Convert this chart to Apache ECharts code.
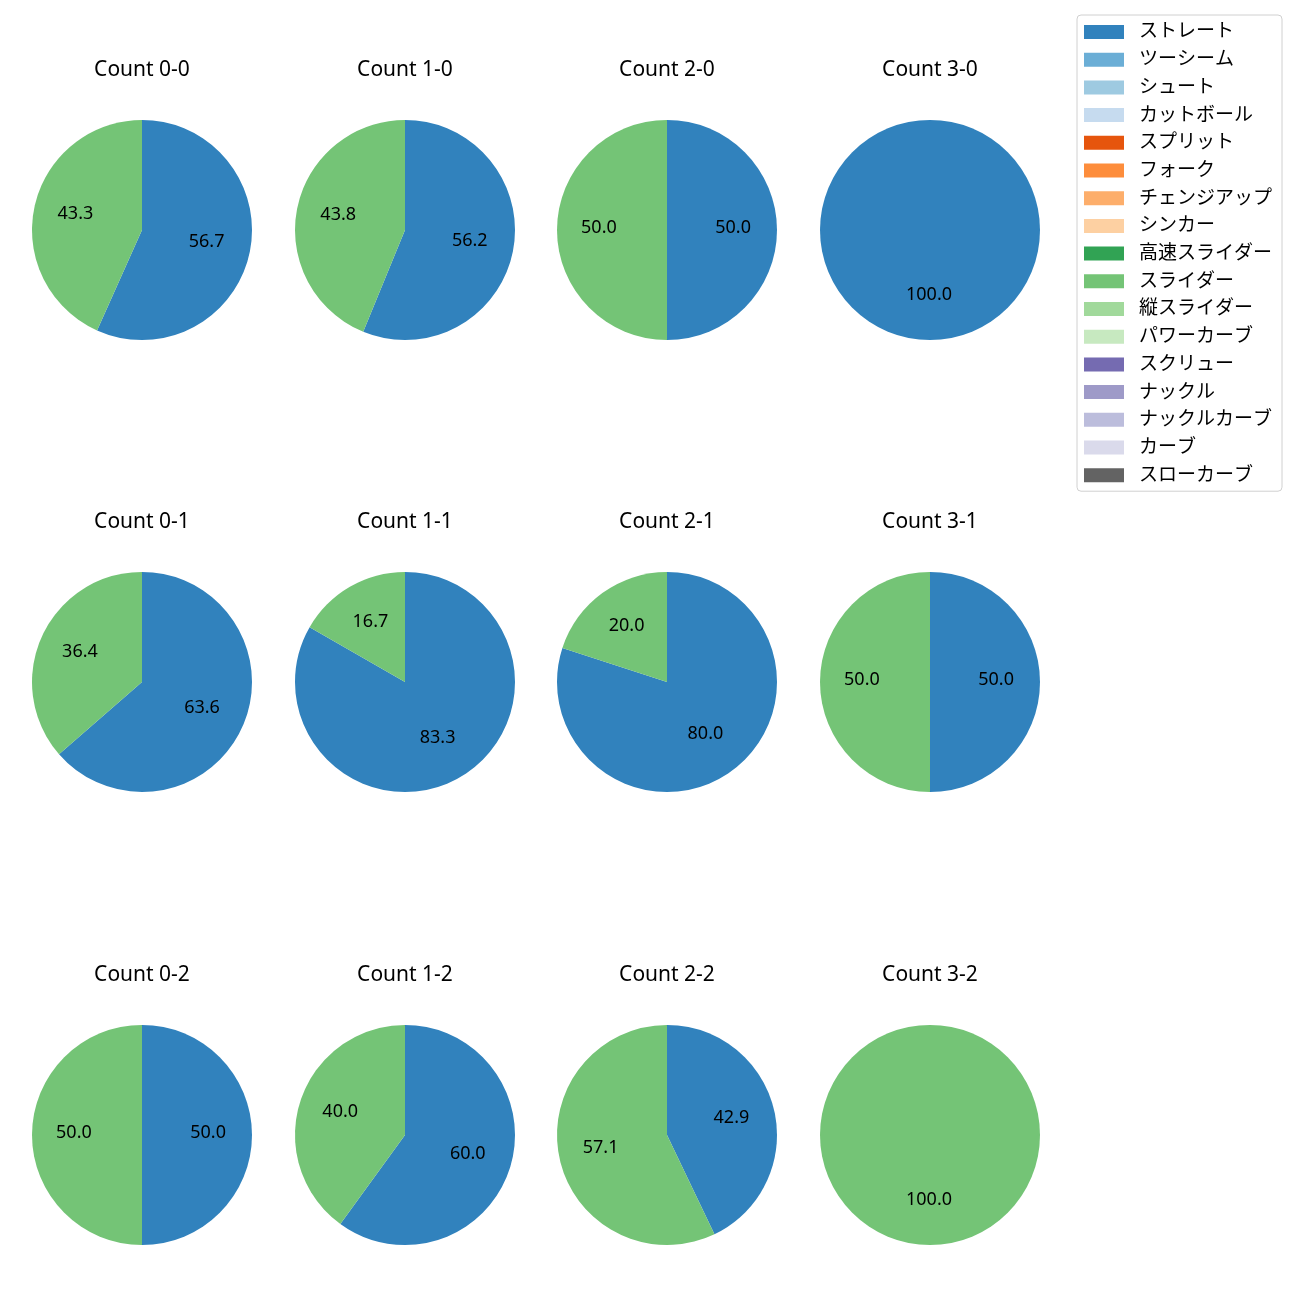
<!DOCTYPE html>
<html><head><meta charset="utf-8">
<script src="https://cdn.jsdelivr.net/npm/echarts@6/dist/echarts.min.js"></script>
<style>html,body{margin:0;padding:0;background:#fff}#c{width:1300px;height:1300px}</style>
</head><body><div id="c"></div>
<script>
const categories = ['ストレート','ツーシーム','シュート','カットボール','スプリット','フォーク','チェンジアップ','シンカー','高速スライダー','スライダー','縦スライダー','パワーカーブ','スクリュー','ナックル','ナックルカーブ','カーブ','スローカーブ'];
const colors = ['#3182bd','#6baed6','#9ecae1','#c6dbef','#e6550d','#fd8d3c','#fdae6b','#fdd0a2','#31a354','#74c476','#a1d99b','#c7e9c0','#756bb1','#9e9ac8','#bcbddc','#dadaeb','#636363'];
const counts = ['0-0','1-0','2-0','3-0','0-1','1-1','2-1','3-1','0-2','1-2','2-2','3-2'];
// percentages for ストレート and スライダー per count (others 0)
const straight = [56.7, 56.2, 50.0, 100.0, 63.6, 83.3, 80.0, 50.0, 50.0, 60.0, 42.9, 0];
const slider   = [43.3, 43.8, 50.0, 0,     36.4, 16.7, 20.0, 50.0, 50.0, 40.0, 57.1, 100.0];

const FONT = '"Noto Sans","Noto Sans CJK JP",sans-serif';
const colX = [142, 405, 667, 930];
const rowY = [230, 682, 1135];
const R = 110;

function dataFor(i){
  return categories.map((c,k)=>{
    let v = 0;
    if (c==='ストレート') v = straight[i];
    if (c==='スライダー') v = slider[i];
    return {name:c, value:v, itemStyle:{color:colors[k]}};
  });
}

const series = [];
const titles = [];
counts.forEach((cnt,i)=>{
  const cx = colX[i%4], cy = rowY[Math.floor(i/4)];
  series.push({
    type:'pie', center:[cx,cy], radius:[0,R], startAngle:90, clockwise:true,
    data:dataFor(i), label:{show:false}, labelLine:{show:false},
    emphasis:{disabled:true}, animation:false, avoidLabelOverlap:false
  });
  titles.push({text:'Count '+cnt, left:cx, top:cy-170, textAlign:'center', padding:0,
    textStyle:{fontFamily:FONT, fontSize:21, fontWeight:'normal', color:'#000'}});
});
counts.forEach((cnt,i)=>{
  const cx = colX[i%4], cy = rowY[Math.floor(i/4)];
  series.push({
    type:'pie', center:[cx,cy], radius:[0,R*1.165], startAngle:90, clockwise:true, silent:true,
    data:dataFor(i).map(d=>({name:d.name, value:d.value, itemStyle:{color:'rgba(0,0,0,0)'}})),
    minShowLabelAngle:0.5, legendHoverLink:false,
    label:{show:true, position:'inside', fontFamily:FONT, fontSize:18, color:'#000', offset:[-1,-2],
      formatter:p=>p.value>0?p.value.toFixed(1):''},
    labelLine:{show:false}, emphasis:{disabled:true}, animation:false, avoidLabelOverlap:false
  });
});

const chart = echarts.init(document.getElementById('c'), null, {renderer:'canvas'});
chart.setOption({
  animation:false,
  title:titles,
  legend:{
    orient:'vertical', left:1077, top:15,
    data:categories.map((c,k)=>({name:c, itemStyle:{color:colors[k]}})),
    icon:'rect', itemWidth:40, itemHeight:14, itemGap:7.7,
    padding:[7,10,6,7], borderColor:'#d0d0d0', borderWidth:1, borderRadius:4,
    selectedMode:false,
    textStyle:{fontFamily:FONT, fontSize:19, color:'#000', lineHeight:20, padding:[0,0,0,10]}
  },
  series:series
});
</script></body></html>
